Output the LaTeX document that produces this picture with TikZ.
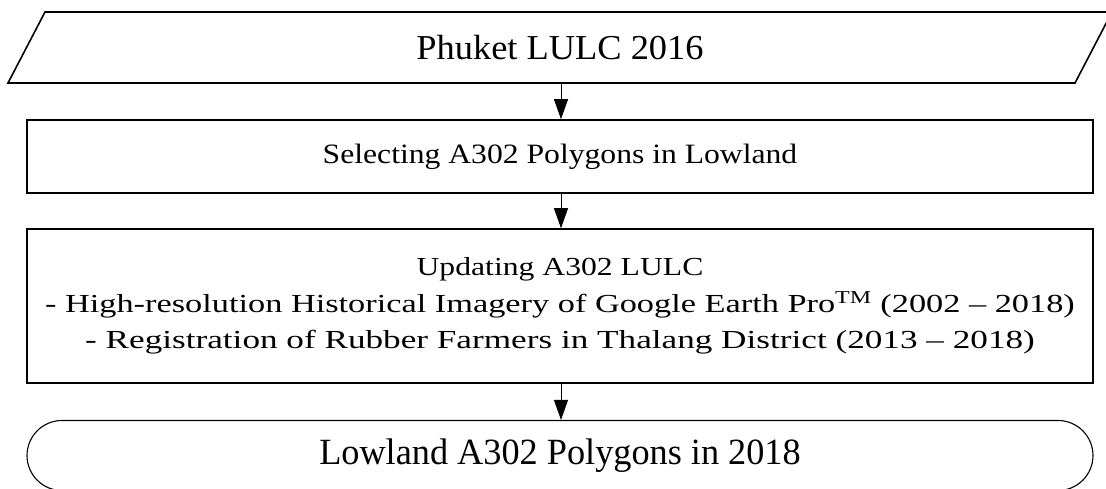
\documentclass[tikz,border=0pt]{standalone}
\usepackage{fontspec}
\setmainfont{Liberation Serif}
\usetikzlibrary{arrows.meta}
\tikzset{
  box/.style={draw, line width=1.6pt, rectangle, minimum width=1066pt, inner sep=0pt, align=center},
  term/.style={draw, line width=1.1pt, rectangle, rounded corners=35pt, minimum width=1066pt, minimum height=70pt, inner sep=0pt},
  conn/.style={line width=1pt, -{Triangle[length=20pt,width=14pt]}},
}
\begin{document}
\begin{tikzpicture}[x=1pt,y=-1pt]
\useasboundingbox (0,0) rectangle (1106,489);
\begin{scope}
\clip (0,0) rectangle (1106,489);
\draw[line width=1.6pt] (45,12) -- (1112,12) -- (1075,83) -- (8,83) -- cycle;
\node[minimum width=1030pt, minimum height=71pt, inner sep=0pt, font=\fontsize{35}{40}\selectfont] (in) at (560,47.5) {\scalebox{1.04}[1]{Phuket LULC 2016}};
\node[box, minimum height=73pt, font=\fontsize{28}{32}\selectfont] (sel) at (560,156.5) {\raisebox{-3pt}{\scalebox{1.13}[1]{Selecting A302 Polygons in Lowland}}};
\node[box, minimum height=154pt, font=\fontsize{26}{36.5}\selectfont] (upd) at (560,306) {\scalebox{1.218}[1]{Updating A302 LULC}\\\scalebox{1.32}[1]{- High-resolution Historical Imagery of Google Earth Pro\textsuperscript{TM} (2002 -- 2018)}\\\scalebox{1.353}[1]{- Registration of Rubber Farmers in Thalang District (2013 -- 2018)}};
\node[term, font=\fontsize{37}{44}\selectfont] (out) at (560,455.5) {\scalebox{0.98}[1]{Lowland A302 Polygons in 2018}};
\end{scope}
\draw[conn] (in.south -| 561,0) -- (sel.north -| 561,0);
\draw[conn] (sel.south -| 561,0) -- (upd.north -| 561,0);
\draw[conn] (upd.south -| 561,0) -- (out.north -| 561,0);
\end{tikzpicture}
\end{document}
